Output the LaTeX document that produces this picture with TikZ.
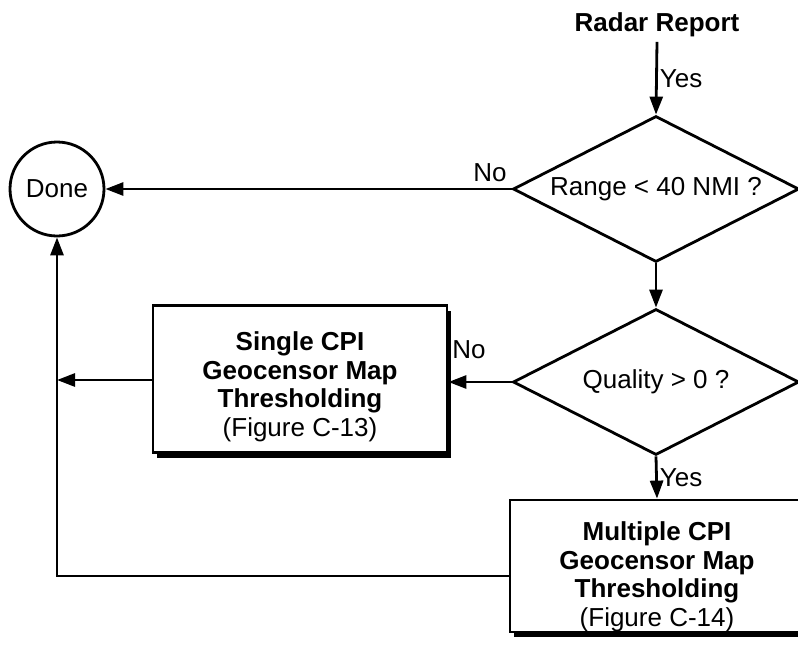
\documentclass[tikz,border=0pt]{standalone}
\usepackage{fontspec}
\setmainfont{Liberation Sans}
\usetikzlibrary{arrows.meta,positioning,shapes.geometric,shadows}

\begin{document}
\begin{tikzpicture}[x=1pt, y=-1pt, line width=2.8pt,
    every node/.style={font=\fontsize{26}{28.5}\selectfont},
    decision/.style={diamond, draw, aspect=2, inner sep=0pt, minimum width=286pt, minimum height=146pt},
    block/.style={rectangle, draw, fill=white, minimum width=294pt, drop shadow={shadow xshift=4pt, shadow yshift=-5pt, fill=black, opacity=1}},
    blocktext/.style={align=center, inner sep=0pt},
    flow/.style={-{Triangle[length=18pt,width=13pt]}}]

\useasboundingbox (0,0) rectangle (798,654);

\node[font=\fontsize{26}{28.5}\selectfont\bfseries] (report) at (657,25) {Radar Report};
\node[decision] (range) at (656,189) {Range < 40 NMI ?};
\node[decision] (quality) at (656,382) {Quality > 0 ?};
\node[circle, draw, minimum size=94pt, inner sep=0pt] (done) at (57,189) {Done};
\node[block, minimum height=147pt] (single) at (300,379) {};
\node[blocktext] (singletext) at ([yshift=-8pt]single.center) {\textbf{Single CPI}\\\textbf{Geocensor Map}\\\textbf{Thresholding}\\(Figure C-13)};
\node[block, minimum height=132pt] (multi) at (657,566) {};
\node[blocktext] (multitext) at ([yshift=-11pt]multi.center) {\textbf{Multiple CPI}\\\textbf{Geocensor Map}\\\textbf{Thresholding}\\(Figure C-14)};

\coordinate (join) at (57,380);
\coordinate (corner) at (57,576);

\draw[flow] (report.south) -- node[right, inner sep=2pt] {Yes} (range.north);
\draw[flow] (range.west) -- (done.east);
\node (no1) at (490,173) {No};
\draw[flow] (range.south) -- (quality.north);
\draw[flow] (quality.west) -- (single.east |- quality.west);
\node (no2) at (469,350) {No};
\draw[flow] (single.west |- join) -- (join);
\draw[flow] (quality.south) -- node[right, inner sep=2pt] {Yes} (multi.north);
\draw[flow] (multi.west |- corner) -- (corner) -- (done.south);

\end{tikzpicture}
\end{document}
